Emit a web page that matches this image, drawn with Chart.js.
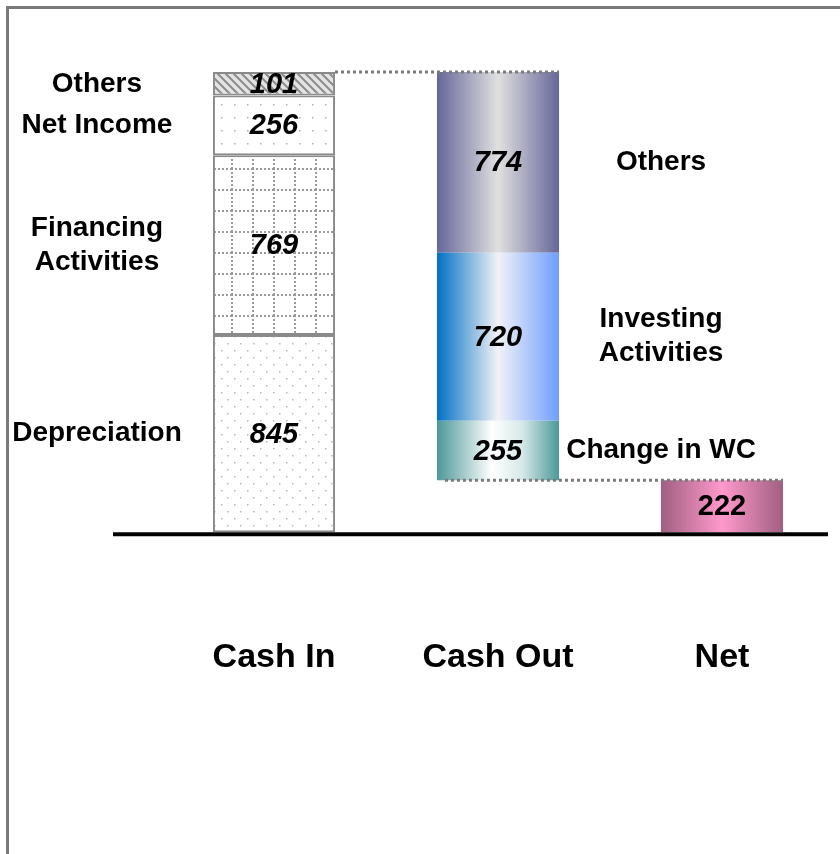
<!DOCTYPE html>
<html>
<head>
<meta charset="utf-8">
<script src="https://cdn.jsdelivr.net/npm/chart.js@4.4.1/dist/chart.umd.min.js"></script>
<style>
  html, body { margin: 0; padding: 0; background: #fff; }
  #wrap { position: relative; width: 840px; height: 854px; }
  #frame { position: absolute; left: 6px; top: 6px; right: 0; bottom: 0;
           border-top: 3px solid #7a7a7a; border-left: 3px solid #7a7a7a; }
  canvas { position: absolute; left: 0; top: 0; }
</style>
</head>
<body>
<div id="wrap">
  <div id="frame"></div>
  <canvas id="chart" width="840" height="854"></canvas>
</div>
<script>
(function () {
    "use strict";

    // Data (bottom to top in each column)
    var categories = ['Cash In', 'Cash Out', 'Net'];
    var cashInLabels = ['Depreciation', ['Financing', 'Activities'], 'Net Income', 'Others'];
    var cashInValues = [845, 769, 256, 101];
    var cashOutLabels = ['Change in WC', ['Investing', 'Activities'], 'Others'];
    var cashOutValues = [255, 720, 774];
    var netValue = 222;

    var BAR_PCT = 0.545;
    var FONT = '"Liberation Sans", Arial, Helvetica, sans-serif';

    // Patterns for the Cash In blocks
    function makePattern(w, h, draw) {
        var c = document.createElement('canvas');
        c.width = w; c.height = h;
        var g = c.getContext('2d');
        g.fillStyle = '#ffffff';
        g.fillRect(0, 0, w, h);
        draw(g);
        return g.createPattern(c, 'repeat');
    }
    var ctx = document.getElementById('chart').getContext('2d');

    var depreciationPat = makePattern(13, 14, function (g) {
        g.fillStyle = '#b8b8b8';
        g.fillRect(0, 0, 1.5, 1.5);
        g.fillRect(6, 7, 1.5, 1.5);
    });
    var financingPat = makePattern(21, 21, function (g) {
        g.fillStyle = '#9a9a9a';
        for (var i = 0; i < 21; i += 4) {
            g.fillRect(i, 0, 2, 2);
            g.fillRect(0, i, 2, 2);
        }
    });
    var netIncomePat = makePattern(13, 13, function (g) {
        g.fillStyle = '#b0b0b0';
        g.fillRect(0, 0, 1.5, 1.5);
    });
    var hatchPat = makePattern(8, 8, function (g) {
        g.fillStyle = '#e4e4e4';
        g.fillRect(0, 0, 8, 8);
        g.strokeStyle = '#8c8c8c';
        g.lineWidth = 2;
        g.beginPath();
        g.moveTo(-2, -2); g.lineTo(10, 10);
        g.moveTo(-2, 6); g.lineTo(2, 10);
        g.moveTo(6, -2); g.lineTo(10, 2);
        g.stroke();
    });
    var cashInFills = [depreciationPat, financingPat, netIncomePat, hatchPat];

    // Horizontal gradient across a bar
    function hGrad(stops) {
        return function (c) {
            var chart = c.chart, xs = chart.scales.x;
            if (!chart.chartArea || !xs) return stops[1][1];
            var cx = xs.getPixelForValue(c.dataIndex);
            var w = (xs.getPixelForValue(1) - xs.getPixelForValue(0)) * BAR_PCT;
            var gr = chart.ctx.createLinearGradient(cx - w / 2, 0, cx + w / 2, 0);
            stops.forEach(function (s) { gr.addColorStop(s[0], s[1]); });
            return gr;
        };
    }
    var cashOutFills = [
        hGrad([[0, '#4c9898'], [0.45, '#ffffff'], [0.7, '#d6e8e8'], [1, '#4c9898']]),
        hGrad([[0, '#0070c4'], [0.5, '#f2f2f6'], [1, '#6e9eff']]),
        hGrad([[0, '#66669a'], [0.5, '#e0e0e0'], [1, '#66669a']])
    ];
    var netFill = hGrad([[0, '#a05f80'], [0.5, '#ff99cc'], [1, '#a05f80']]);

    // Build floating bar datasets
    var datasets = [];
    var total = cashInValues.reduce(function (a, b) { return a + b; }, 0);
    var run = 0;
    cashInValues.forEach(function (v, i) {
        datasets.push({
            label: cashInLabels[i], side: 'left', value: v, italic: true,
            data: [[run, run + v], null, null],
            backgroundColor: cashInFills[i],
            borderColor: '#8a8a8a', borderWidth: 2, borderSkipped: false
        });
        run += v;
    });
    run = total - cashOutValues.reduce(function (a, b) { return a + b; }, 0);
    cashOutValues.forEach(function (v, i) {
        datasets.push({
            label: cashOutLabels[i], side: 'right', value: v, italic: true,
            data: [null, [run, run + v], null],
            backgroundColor: cashOutFills[i], borderWidth: 0
        });
        run += v;
    });
    datasets.push({
        label: 'Net', side: null, value: netValue, italic: false,
        data: [null, null, [0, netValue]],
        backgroundColor: netFill, borderWidth: 0
    });

    var waterfallDeco = {
        id: 'waterfallDeco',
        afterDatasetsDraw: function (chart) {
            var c = chart.ctx, xs = chart.scales.x, ys = chart.scales.y, area = chart.chartArea;
            var half = (xs.getPixelForValue(1) - xs.getPixelForValue(0)) * BAR_PCT / 2;
            c.save();

            // connectors
            c.strokeStyle = '#7a7a7a';
            c.lineWidth = 3;
            c.setLineDash([3, 3]);
            c.beginPath();
            var yTop = ys.getPixelForValue(total);
            c.moveTo(xs.getPixelForValue(0) + half, yTop);
            c.lineTo(xs.getPixelForValue(1) + half, yTop);
            var yNet = ys.getPixelForValue(netValue);
            c.moveTo(xs.getPixelForValue(1) - half + 8, yNet);
            c.lineTo(xs.getPixelForValue(2) + half, yNet);
            c.stroke();
            c.setLineDash([]);

            // baseline
            c.strokeStyle = '#000';
            c.lineWidth = 4;
            c.beginPath();
            var y0 = ys.getPixelForValue(0) + 2;
            c.moveTo(area.left - 49, y0);
            c.lineTo(area.right - 6, y0);
            c.stroke();

            // values and side labels
            c.fillStyle = '#000';
            c.textAlign = 'center';
            c.textBaseline = 'middle';
            chart.data.datasets.forEach(function (ds, di) {
                var meta = chart.getDatasetMeta(di);
                ds.data.forEach(function (d, i) {
                    if (!d) return;
                    var el = meta.data[i];
                    var ym = (el.y + el.base) / 2;
                    c.font = (ds.italic ? 'italic ' : '') + 'bold 29px ' + FONT;
                    c.fillText(String(ds.value), el.x, ym + 1);
                    if (!ds.side) return;
                    c.font = 'bold 28px ' + FONT;
                    var lx = ds.side === 'left' ? el.x - half - 116 : el.x + half + 102;
                    var lines = Array.isArray(ds.label) ? ds.label : [ds.label];
                    lines.forEach(function (t, k) {
                        c.fillText(t, lx, ym + (k - (lines.length - 1) / 2) * 34);
                    });
                });
            });
            c.restore();
        }
    };

    new Chart(ctx, {
        type: 'bar',
        data: { labels: categories, datasets: datasets },
        options: {
            responsive: false,
            animation: false,
            layout: { padding: { left: 162, right: 6, top: 72, bottom: 176 } },
            datasets: { bar: { grouped: false, barPercentage: BAR_PCT, categoryPercentage: 1 } },
            plugins: { legend: { display: false }, tooltip: { enabled: false } },
            scales: {
                x: {
                    grid: { display: false, drawTicks: true, tickLength: 105 },
                    border: { display: false },
                    ticks: { color: '#000', padding: 0, font: { family: FONT, size: 34, weight: 'bold' } }
                },
                y: { display: false, min: 0, max: total }
            }
        },
        plugins: [waterfallDeco]
    });
})();
</script>
</body>
</html>
